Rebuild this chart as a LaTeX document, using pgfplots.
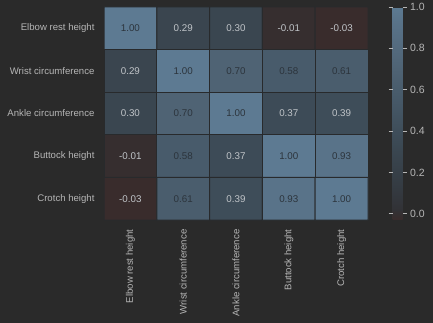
\documentclass[border=0pt]{standalone}
\usepackage{pgfplots}
\pgfplotsset{compat=1.18}
\usepackage{fontspec}
\setmainfont{Liberation Sans}
\definecolor{bg}{RGB}{42,42,42}
\definecolor{edgec}{RGB}{40,42,44}
\definecolor{lbl}{RGB}{182,182,182}
\definecolor{lighttxt}{RGB}{192,196,200}
\definecolor{darktxt}{RGB}{44,52,60}
\begin{document}
\begin{tikzpicture}[x=1pt,y=1pt]
\fill[bg] (0,0) rectangle (433,323);
\useasboundingbox (0,0) rectangle (433,323);
\begin{axis}[
  at={(104pt,103pt)}, anchor=south west,
  scale only axis, width=264pt, height=213pt,
  xmin=-0.5, xmax=4.5, ymin=-0.5, ymax=4.5,
  y dir=reverse,
  axis line style={draw=none},
  xtick={0,1,2,3,4}, ytick={0,1,2,3,4},
  xticklabels={Elbow rest height, Wrist circumference, Ankle circumference, Buttock height, Crotch height},
  yticklabels={Elbow rest height, Wrist circumference, Ankle circumference, Buttock height, Crotch height},
  major tick length=0pt,
  xticklabel style={rotate=90, anchor=east, font=\fontsize{9.6}{11}\selectfont, color=lbl, yshift=0pt},
  yticklabel style={anchor=east, font=\fontsize{9.6}{11}\selectfont, color=lbl},
  xticklabel shift=6pt, yticklabel shift=6pt,
  colormap={corr}{rgb255(0)=(57,44,44) rgb255(2)=(54,46,47) rgb255(5)=(50,50,54) rgb255(15)=(52,58,65) rgb255(33)=(58,70,80) rgb255(42)=(62,77,89) rgb255(61)=(72,91,107) rgb255(73)=(79,99,116) rgb255(96)=(89,115,137) rgb255(103)=(93,122,146)},
  point meta min=-0.03, point meta max=1,
  colorbar,
  colorbar style={
    at={(parent axis.north east)}, anchor=north west, xshift=16pt,
    width=10pt,
    axis line style={draw=none},
    ytick={0,0.2,0.4,0.6,0.8,1},
    yticklabels={0.0,0.2,0.4,0.6,0.8,1.0},
    yticklabel style={font=\fontsize{10.5}{12}\selectfont, color=lbl},
    major tick length=4pt,
    tick style={color=lbl, line width=0.6pt},
    tick align=outside,
    yticklabel shift=0pt,
  },
]
\addplot[matrix plot*, mesh/cols=5, point meta=explicit, draw=edgec, line width=1pt] table[meta=c] {
x y c
0 0 1.00
1 0 0.29
2 0 0.30
3 0 -0.01
4 0 -0.03
0 1 0.29
1 1 1.00
2 1 0.70
3 1 0.58
4 1 0.61
0 2 0.30
1 2 0.70
2 2 1.00
3 2 0.37
4 2 0.39
0 3 -0.01
1 3 0.58
2 3 0.37
3 3 1.00
4 3 0.93
0 4 -0.03
1 4 0.61
2 4 0.39
3 4 0.93
4 4 1.00
};
\addplot[draw=none, mark=none, only marks, point meta=explicit symbolic, nodes near coords,
  every node near coord/.append style={anchor=center, font=\fontsize{9.8}{11}\selectfont, color=darktxt}] table[meta=t] {
x y t
0 0 1.00
1 1 1.00
2 1 0.70
3 1 0.58
4 1 0.61
1 2 0.70
2 2 1.00
1 3 0.58
3 3 1.00
4 3 0.93
1 4 0.61
3 4 0.93
4 4 1.00
};
\addplot[draw=none, mark=none, only marks, point meta=explicit symbolic, nodes near coords,
  every node near coord/.append style={anchor=center, font=\fontsize{9.8}{11}\selectfont, color=lighttxt}] table[meta=t] {
x y t
1 0 0.29
2 0 0.30
3 0 -0.01
4 0 -0.03
0 1 0.29
0 2 0.30
3 2 0.37
4 2 0.39
0 3 -0.01
2 3 0.37
0 4 -0.03
2 4 0.39
};
\end{axis}
\end{tikzpicture}
\end{document}
